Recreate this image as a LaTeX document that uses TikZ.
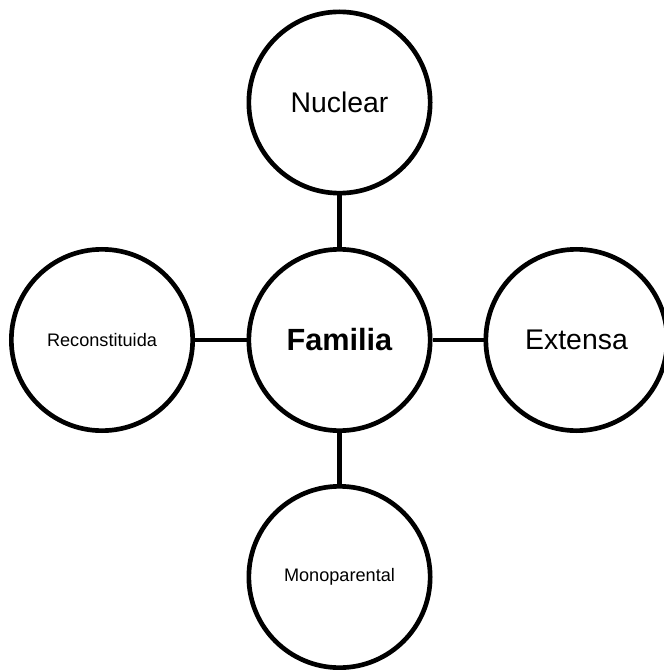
\documentclass[tikz,border=0pt]{standalone}
\usepackage{fontspec}
\setmainfont{Liberation Sans}
\usepackage{tikz}

\begin{document}
\begin{tikzpicture}[
	x=0.75pt, y=-0.75pt,
	tipo/.style={shape=circle, draw, line width=3.5pt, inner sep=0pt,
		minimum size=136pt, fill=white, align=center},
	grande/.style={font=\fontsize{21.3}{24}\selectfont},
	chico/.style={font=\fontsize{13.6}{16}\selectfont},
	enlace/.style={-, line width=3.5pt, black}
]
	\useasboundingbox (0,0) rectangle (663,670);

	\node[tipo,font=\fontsize{23}{26}\selectfont] at (339.5,340) (0) {\textbf{Familia}};
	\node[tipo,grande] at (339.5,102.5) (1) {Nuclear};
	\node[tipo,grande] at (576.5,340) (2) {Extensa};
	\node[tipo,chico] at (339.5,577) (3) {Monoparental};
	\node[tipo,chico] at (102,340) (4) {Reconstituida};

	\draw[enlace] (0) -- (1);
	\draw[enlace] (0) -- (2);
	\draw[enlace] (0) -- (3);
	\draw[enlace] (0) -- (4);
\end{tikzpicture}
\end{document}
